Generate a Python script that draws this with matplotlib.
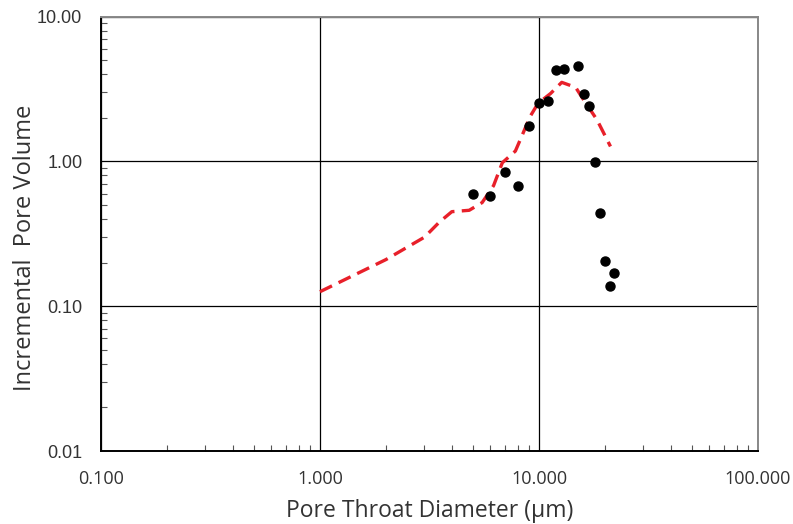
import matplotlib
matplotlib.use("Agg")
import matplotlib.pyplot as plt
from matplotlib.ticker import FixedLocator, LogLocator, NullFormatter

# measured points (pore throat diameter, incremental pore volume)
diam_pts = [5, 6, 7, 8, 9, 10, 11, 12, 13, 15, 16, 17, 18, 19, 20, 21, 22]
vol_pts = [0.60, 0.58, 0.85, 0.68, 1.76, 2.52, 2.63, 4.31, 4.35, 4.59,
           2.92, 2.43, 0.99, 0.44, 0.206, 0.138, 0.170]

# fitted model curve (red dashed)
diam_fit = [1.0, 2.0, 3.0, 3.5, 4.0, 4.8, 5.5, 6.2, 6.8, 7.8, 8.4, 9.1,
            9.9, 11.3, 12.7, 14.7, 16.0, 18.4, 21.2]
vol_fit = [0.126, 0.21, 0.30, 0.38, 0.45, 0.46, 0.52, 0.68, 0.98, 1.18,
           1.53, 2.04, 2.52, 2.95, 3.52, 3.25, 2.66, 1.94, 1.27]

x_ticks = [0.1, 1, 10, 100]
x_labels = ["0.100", "1.000", "10.000", "100.000"]
y_ticks = [0.01, 0.1, 1, 10]
y_labels = ["0.01", "0.10", "1.00", "10.00"]

fig = plt.figure(figsize=(7.93, 5.24), dpi=100)
ax = fig.add_axes([101 / 793, 1 - 451 / 524, 657 / 793, (451 - 16.7) / 524])

ax.set_xscale("log")
ax.set_yscale("log")
ax.set_xlim(0.1, 100)
ax.set_ylim(0.01, 10)

ax.plot(diam_fit, vol_fit, color="#e8202a", lw=2.4, dashes=(4, 2.2), zorder=3)
ax.plot(diam_pts, vol_pts, "o", color="black", ms=6.5, zorder=4)

ax.xaxis.set_major_locator(FixedLocator(x_ticks))
ax.yaxis.set_major_locator(FixedLocator(y_ticks))
ax.set_xticklabels(x_labels, fontsize=13, family="Open Sans", color="#333333")
ax.set_yticklabels(y_labels, fontsize=13, family="Liberation Sans", color="#333333")
ax.xaxis.set_minor_locator(LogLocator(base=10, subs=range(2, 10)))
ax.yaxis.set_minor_locator(LogLocator(base=10, subs=range(2, 10)))
ax.xaxis.set_minor_formatter(NullFormatter())
ax.yaxis.set_minor_formatter(NullFormatter())
ax.tick_params(axis="x", which="major", length=0, pad=13.5)
ax.tick_params(axis="y", which="major", length=0, pad=13.5)
ax.tick_params(which="minor", direction="in", length=4, width=0.8, color="#555555")
ax.tick_params(axis="y", which="minor", left=True, right=False)
ax.tick_params(axis="x", which="minor", bottom=True, top=False)

ax.grid(True, which="major", color="black", lw=0.9)
for s in ["left", "bottom"]:
    ax.spines[s].set_color("black")
    ax.spines[s].set_linewidth(1.4)
for s in ["top", "right"]:
    ax.spines[s].set_color("#888888")
    ax.spines[s].set_linewidth(1.4)

ax.set_xlabel("Pore Throat Diameter (\u03bcm)", fontsize=16.5, family="Open Sans",
              color="#333333", labelpad=8)
ax.set_ylabel("Incremental  Pore Volume", fontsize=17, family="Open Sans",
              color="#333333")
ax.yaxis.set_label_coords(-0.098, 0.469)

fig.savefig("out.png", dpi=100)
